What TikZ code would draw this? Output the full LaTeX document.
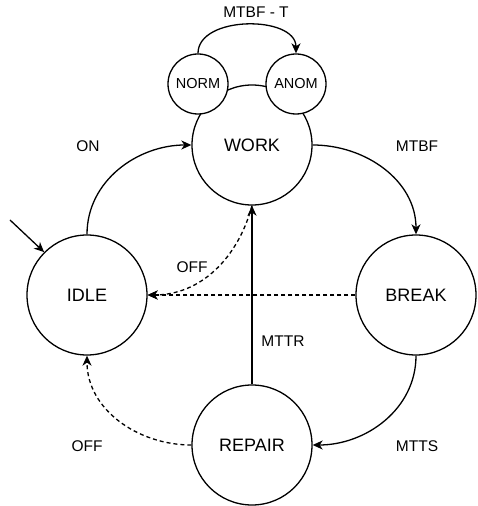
\documentclass[tikz,border=0pt]{standalone}
\usepackage{fontspec}
\setmainfont{Liberation Sans}
\usetikzlibrary{arrows.meta}
\tikzset{
        bigstate/.style={circle, draw=black, line width=1.3pt, minimum size=120pt, inner sep=0pt, fill=white, font=\fontsize{18}{20}\selectfont},
        substate/.style={circle, draw=black, line width=1.3pt, minimum size=60pt, inner sep=0pt, fill=white, font=\fontsize{14.5}{16}\selectfont},
        tlabel/.style={inner sep=0pt, font=\fontsize{15.5}{18}\selectfont},
        trans/.style={line width=1.3pt, -{Stealth[length=10pt, width=9pt, inset=3pt]}},
        offtrans/.style={trans, dash pattern=on 4pt off 3pt}
          }
\begin{document}
\begin{tikzpicture}[x=1pt, y=1pt]
        \useasboundingbox (0,0) rectangle (477,506);
        % the four main states
        \node[bigstate] (work) at (252,361) {WORK};
        \node[bigstate] (idle) at (87,211) {IDLE};
        \node[bigstate] (brk) at (416,211) {BREAK};
        \node[bigstate] (repair) at (252,61) {REPAIR};
        \coordinate (start) at (10,286);

        \draw[trans] (start) -- (idle.north west);
        \draw[trans] (idle.north) to[out=90, in=180] (work.west);
        \draw[trans] (work.east) to[out=0, in=90] (brk.north);
        \draw[trans] (brk.south) to[out=-90, in=0] (repair.east);
        \draw[offtrans] (work.south) to[out=-105, in=0] (idle.east);
        \draw[offtrans] (brk.west) -- (idle.east);
        \draw[offtrans] (repair.west) to[out=180, in=-90] (idle.south);
        \draw[trans] (repair.north) -- (work.south);

        % sub states of WORK
        \node[substate] (norm) at (198,422) {NORM};
        \node[substate] (anom) at (296,422) {ANOM};
        \draw[trans] (norm.north) to[out=90, in=90] (anom.north);

        \node[tlabel] (lmtbft) at (256,494) {MTBF - T};
        \node[tlabel] (lon) at (88,360) {ON};
        \node[tlabel] (lmtbf) at (417,360) {MTBF};
        \node[tlabel] (lmttr) at (283,165) {MTTR};
        \node[tlabel] (loff) at (192,239) {OFF};
        \node[tlabel] (loff2) at (87,60) {OFF};
        \node[tlabel] (lmtts) at (417,60) {MTTS};
\end{tikzpicture}
\end{document}
